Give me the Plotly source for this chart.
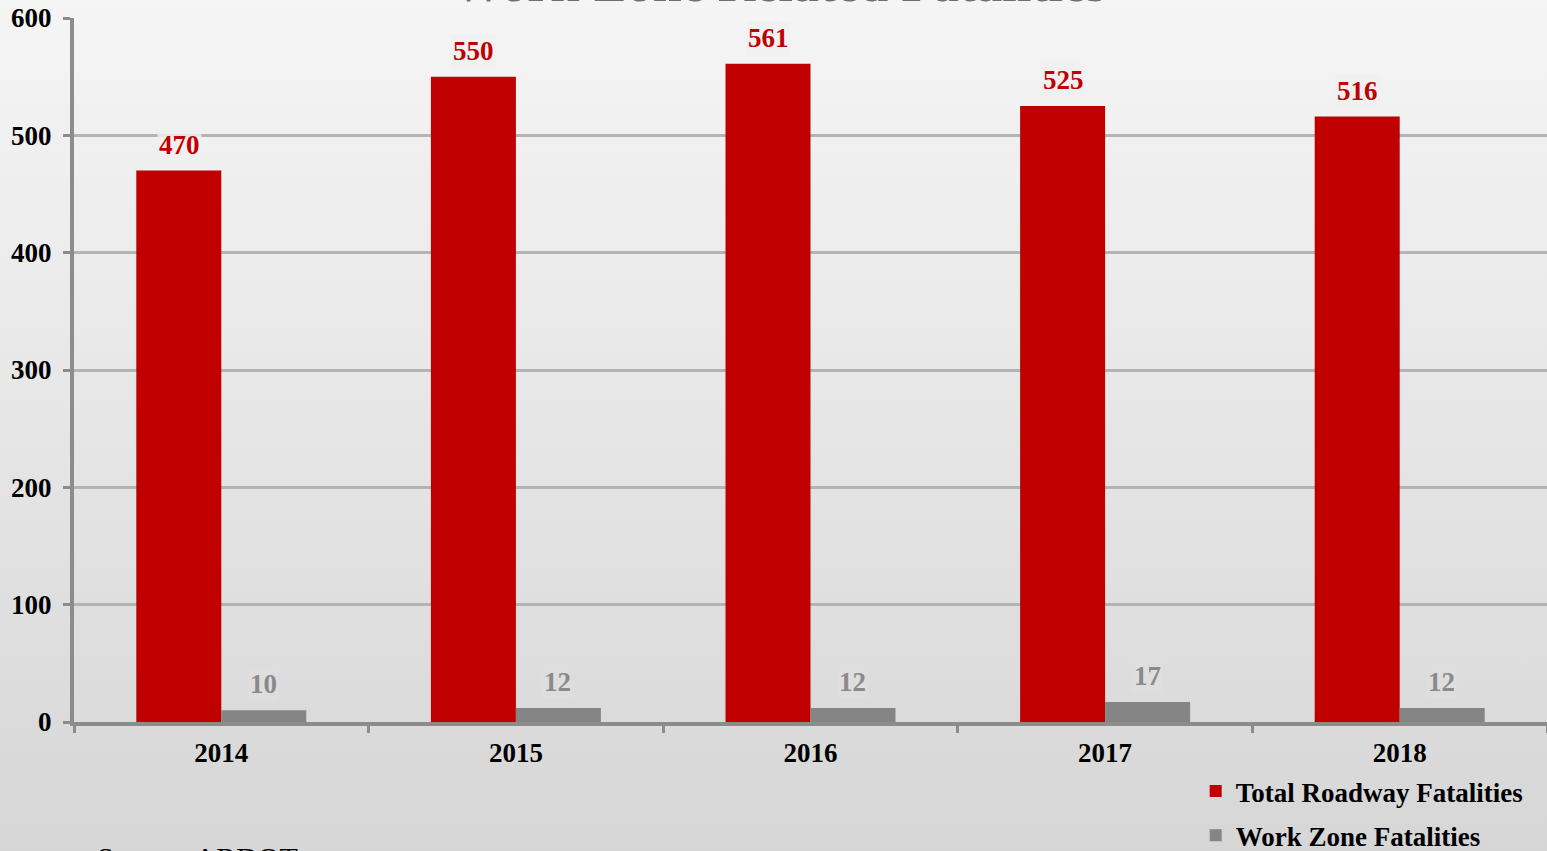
import base64
import plotly.graph_objects as go

years = ["2014", "2015", "2016", "2017", "2018"]
total_fatalities = [470, 550, 561, 525, 516]
work_zone_fatalities = [10, 12, 12, 17, 12]
y_ticks = [0, 100, 200, 300, 400, 500, 600]

RED = "#c00000"
GRAY = "#858585"
FONT = "Liberation Serif"

W, H = 1547, 851
ML, MR, MT, MB = 74, 0, 18, 129
plot_h = H - MT - MB
plot_w = W - ML - MR

fig = go.Figure()
fig.add_trace(go.Bar(x=years, y=total_fatalities, name="Total Roadway Fatalities",
                     legendgroup="a", marker=dict(color=RED, line=dict(width=0))))
fig.add_trace(go.Bar(x=years, y=work_zone_fatalities, name="Work Zone Fatalities",
                     legendgroup="b", marker=dict(color=GRAY, line=dict(width=0))))

annotations = []
for i, v in enumerate(total_fatalities):
    annotations.append(dict(x=i, y=v, xref="x", yref="y", text=str(v), showarrow=False,
                            xshift=-42, yanchor="bottom", yshift=9,
                            font=dict(family=FONT, size=27, color=RED, weight="bold"),
                            bgcolor="rgba(240,240,240,0.85)", borderpad=1))
for i, v in enumerate(work_zone_fatalities):
    annotations.append(dict(x=i, y=v, xref="x", yref="y", text=str(v), showarrow=False,
                            xshift=42, yanchor="bottom", yshift=9,
                            font=dict(family=FONT, size=27, color="#8a8a8a", weight="bold"),
                            bgcolor="rgba(222,222,222,0.85)", borderpad=1))
annotations.append(dict(x=(779 - ML) / plot_w, y=(722 + 16) / plot_h, xref="paper", yref="paper",
                        text="Work Zone Related Fatalities",
                        showarrow=False, yanchor="middle",
                        font=dict(family=FONT, size=52, color="#6f6f6f", weight="bold")))
annotations.append(dict(x=(95 - ML) / plot_w, y=(722 - 857) / plot_h, xref="paper", yref="paper",
                        text="Source: ARDOT", showarrow=False,
                        xanchor="left", yanchor="middle",
                        font=dict(family=FONT, size=30, color="#000000")))

# background: vertical light-to-darker gray gradient
svg = ('<svg xmlns="http://www.w3.org/2000/svg" width="100" height="100" preserveAspectRatio="none">'
       '<defs><linearGradient id="g" x1="0" y1="0" x2="0" y2="1">'
       '<stop offset="0" stop-color="#f5f5f5"/><stop offset="0.5" stop-color="#e6e6e6"/>'
       '<stop offset="1" stop-color="#d6d6d6"/></linearGradient></defs>'
       '<rect width="100" height="100" fill="url(#g)"/></svg>')
bg_src = "data:image/svg+xml;base64," + base64.b64encode(svg.encode()).decode()

fig.update_layout(
    width=W, height=H,
    margin=dict(l=ML, r=MR, t=MT, b=MB, autoexpand=False),
    paper_bgcolor="#e6e6e6", plot_bgcolor="rgba(0,0,0,0)",
    barmode="group", bargap=0.423, bargroupgap=0,
    font=dict(family=FONT, color="#000000"),
    showlegend=True,
    legend=dict(x=0.7615, y=1 - 767 / H, xref="paper", yref="container",
                xanchor="left", yanchor="top", bgcolor="rgba(0,0,0,0)",
                font=dict(family=FONT, size=27, color="#000000", weight="bold"),
                traceorder="grouped", tracegroupgap=6, itemwidth=30),
    annotations=annotations,
    images=[dict(source=bg_src, xref="paper", yref="paper",
                 x=-ML / plot_w, y=1 + MT / plot_h, sizex=W / plot_w, sizey=H / plot_h,
                 xanchor="left", yanchor="top", sizing="stretch", layer="below")],
)

fig.update_xaxes(type="category", range=[-0.5, len(years) - 0.5], automargin=False,
                 showline=True, linecolor="#8c8c8c", linewidth=4,
                 ticks="outside", tickson="boundaries", ticklen=7, tickwidth=3, tickcolor="#8c8c8c",
                 tickfont=dict(family=FONT, size=27, color="#000000", weight="bold"),
                 ticklabelstandoff=4, showgrid=False)
fig.update_yaxes(range=[0, 600], tickvals=y_ticks, automargin=False,
                 showline=True, linecolor="#8c8c8c", linewidth=4,
                 ticks="outside", ticklen=7, tickwidth=3, tickcolor="#8c8c8c",
                 tickfont=dict(family=FONT, size=27, color="#000000", weight="bold"),
                 ticklabelstandoff=6,
                 showgrid=True, gridcolor="#b4b4b4", gridwidth=3, zeroline=False)

fig.write_html("out.html", config={"displayModeBar": False},
               post_script="document.body.style.margin='0';")
